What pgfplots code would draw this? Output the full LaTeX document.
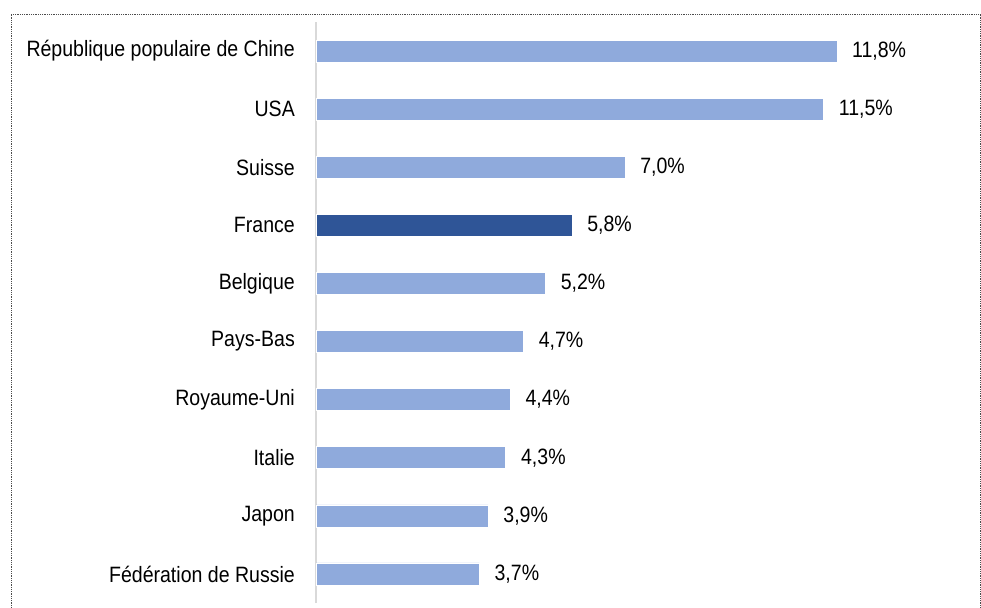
\documentclass[border=0pt]{standalone}
\usepackage{fontspec}
\setmainfont{Liberation Sans}[FakeStretch=0.88]
\usepackage{pgfplots}
\pgfplotsset{compat=1.18}

\definecolor{barlight}{HTML}{8FAADC}
\definecolor{bardark}{HTML}{2F5597}
\definecolor{axisgray}{HTML}{D9D9D9}

\begin{document}
\begin{tikzpicture}
\path[use as bounding box] (0,0) rectangle (981bp,-608bp);
\draw[draw=black!70, line width=0.8bp, dash pattern=on 0.9bp off 0.9bp]
  (11bp,-615bp) -- (11bp,-14bp) -- (980.5bp,-14bp) -- (980.5bp,-615bp);
\begin{axis}[
    at={(316bp,-603bp)}, anchor=south west,
    scale only axis,
    width=640bp, height=581bp,
    xbar, bar shift=0pt, bar width=22bp,
    xmin=0, xmax=14.5,
    ymin=-0.5, ymax=9.5,
    axis x line=none,
    axis y line*=left,
    y axis line style={draw=axisgray, line width=2bp, -},
    xtick=\empty,
    ytick={0,...,9},
    yticklabels={Fédération de Russie, Japon, Italie, Royaume-Uni, Pays-Bas,
                 Belgique, France, Suisse, USA, République populaire de Chine},
    major tick length=0pt,
    y tick label style={inner sep=0pt, anchor=east, xshift=-21bp,
                        font=\fontsize{22.2bp}{26bp}\selectfont},
    /pgf/number format/assume math mode=true,
    nodes near coords={\pgfmathprintnumber[fixed,fixed zerofill,precision=1,use comma]{\pgfplotspointmeta}\%},
    every node near coord/.append style={anchor=west, inner sep=0pt, xshift=15bp,
                        font=\fontsize{22.2bp}{26bp}\selectfont, text=black},
]
\addplot[fill=barlight, draw=white, line width=0.6bp] coordinates {
    (3.7,0) (3.9,1) (4.3,2) (4.4,3) (4.7,4) (5.2,5) (7.0,7) (11.5,8) (11.8,9)
};
\addplot[fill=bardark, draw=white, line width=0.6bp] coordinates {
    (5.8,6)
};
\end{axis}
\end{tikzpicture}
\end{document}
